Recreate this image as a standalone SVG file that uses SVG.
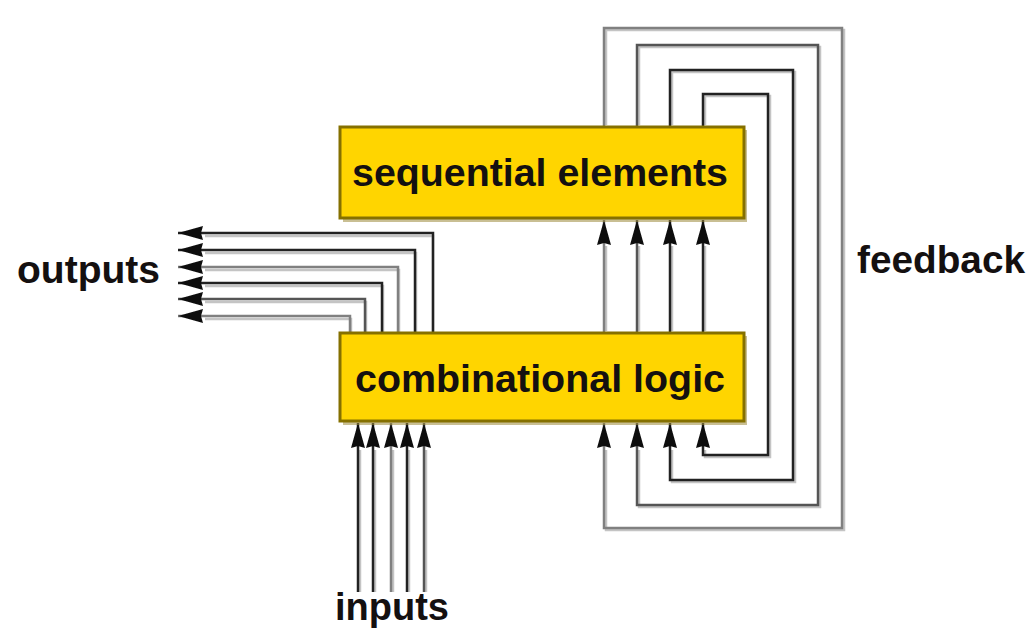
<svg xmlns="http://www.w3.org/2000/svg" width="1028" height="629" viewBox="0 0 1028 629">
  <defs>
    <marker id="arrow" viewBox="0 0 25 14" refX="25" refY="7" markerWidth="25" markerHeight="14" markerUnits="userSpaceOnUse" orient="auto">
      <path d="M0,0 L25,7 L0,14 L2,7 Z" fill="#111"/>
    </marker>
    <filter id="soft" x="-5%" y="-5%" width="110%" height="110%">
      <feGaussianBlur stdDeviation="0.6"/>
    </filter>
  </defs>
  <style>
    .box { fill: #FFD500; stroke: #857000; stroke-width: 3; }
    .boxshade { fill: #9c8a3a; opacity: 0.55; }
    .label { font-family: "Liberation Sans", Arial, Helvetica, sans-serif; font-weight: bold; font-size: 39px; fill: #141010; }
    .wire { fill: none; stroke-width: 2.5; stroke-linejoin: miter; }
    .halo { fill: none; stroke: #c4c4c4; stroke-width: 2.5; }
    .dark { stroke: #222; }
    .mid { stroke: #555; }
    .grey { stroke: #808080; }
    .arr { marker-end: url(#arrow); }
  </style>

  <rect width="1028" height="629" fill="#ffffff"/>

  <g id="connectors" filter="url(#soft)">
    <!-- light edge beside each wire -->
    <g class="halo">
      <path d="M433,335 V236 H205"/>
      <path d="M416,335 V253 H205"/>
      <path d="M399,335 V270 H205"/>
      <path d="M383,335 V286 H205"/>
      <path d="M366,335 V302 H205"/>
      <path d="M351,335 V319 H205"/>
      <path d="M360,592 V450"/>
      <path d="M375,592 V450"/>
      <path d="M393,592 V450"/>
      <path d="M409,592 V450"/>
      <path d="M426,592 V450"/>
      <path d="M606,331 V246"/>
      <path d="M639,331 V246"/>
      <path d="M672,331 V246"/>
      <path d="M705,331 V246"/>
      <path d="M606,125 V30 H844 V530 H606 V450"/>
      <path d="M639,125 V47 H820 V507 H639 V450"/>
      <path d="M672,125 V72 H795 V482 H672 V450"/>
      <path d="M705,125 V96 H770 V457 H705 V450"/>
    </g>

    <!-- combinational logic to outputs -->
    <path class="wire dark arr" d="M433,333 V233 H178"/>
    <path class="wire dark arr" d="M415,333 V250 H178"/>
    <path class="wire grey arr" d="M398,333 V267 H178"/>
    <path class="wire dark arr" d="M382,333 V283 H178"/>
    <path class="wire mid arr" d="M365,333 V299 H178"/>
    <path class="wire grey arr" d="M350,333 V316 H178"/>

    <!-- inputs to combinational logic -->
    <path class="wire dark arr" d="M358,592 V423"/>
    <path class="wire dark arr" d="M373,592 V423"/>
    <path class="wire grey arr" d="M391,592 V423"/>
    <path class="wire dark arr" d="M407,592 V423"/>
    <path class="wire mid arr" d="M424,592 V423"/>

    <!-- combinational logic to sequential elements -->
    <path class="wire grey arr" d="M604,333 V220"/>
    <path class="wire mid arr" d="M637,333 V220"/>
    <path class="wire dark arr" d="M670,333 V220"/>
    <path class="wire dark arr" d="M703,333 V220"/>

    <!-- feedback from sequential elements back to combinational logic -->
    <path class="wire grey arr" d="M604,127 V28 H842 V528 H604 V423"/>
    <path class="wire mid arr" d="M637,127 V45 H818 V505 H637 V423"/>
    <path class="wire dark arr" d="M670,127 V70 H793 V480 H670 V423"/>
    <path class="wire dark arr" d="M703,127 V94 H768 V455 H703 V423"/>
  </g>

  <g id="sequential">
    <rect class="boxshade" x="343" y="130" width="404" height="92"/>
    <rect class="box" x="340" y="127" width="404" height="91"/>
    <text class="label" x="540" y="186" text-anchor="middle" textLength="376" lengthAdjust="spacingAndGlyphs">sequential elements</text>
  </g>

  <g id="combinational">
    <rect class="boxshade" x="343" y="336" width="404" height="89"/>
    <rect class="box" x="340" y="333" width="404" height="88"/>
    <text class="label" x="540" y="392" text-anchor="middle" textLength="370" lengthAdjust="spacingAndGlyphs">combinational logic</text>
  </g>

  <g id="labels">
    <text class="label" x="17" y="283" textLength="143" lengthAdjust="spacingAndGlyphs">outputs</text>
    <text class="label" x="857" y="273" textLength="168" lengthAdjust="spacingAndGlyphs">feedback</text>
    <text class="label" x="335" y="620" textLength="114" lengthAdjust="spacingAndGlyphs">inputs</text>
  </g>
</svg>
